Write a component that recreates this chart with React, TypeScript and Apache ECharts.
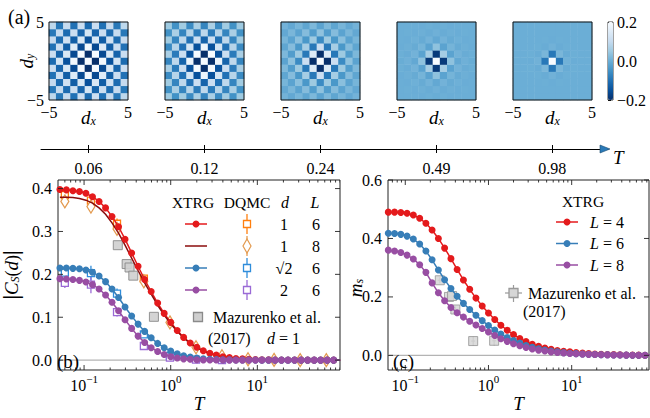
import React, { useEffect, useRef } from 'react';
import * as echarts from 'echarts';

const SERIF = 'Liberation Serif, Times New Roman, serif';

// ---------- panel (a): heatmaps ----------
const HEAT_T = ['0.06', '0.12', '0.24', '0.49', '0.98'];
const D_RANGE = [-5, -4, -3, -2, -1, 0, 1, 2, 3, 4, 5];
// |C(dx,dy)| read per shell: row = max(|dx|,|dy|), col = min(|dx|,|dy|); sign is staggered
const MAG_T006 = [[0.75], [0.39, 0.21], [0.19, 0.16, 0.15], [0.15, 0.14, 0.13, 0.12], [0.13, 0.12, 0.11, 0.11, 0.1], [0.11, 0.11, 0.1, 0.1, 0.09, 0.09]];
const MAG_T012 = [[0.75], [0.375, 0.2], [0.18, 0.15, 0.13], [0.12, 0.11, 0.1, 0.09], [0.09, 0.085, 0.08, 0.07, 0.065], [0.07, 0.065, 0.06, 0.055, 0.05, 0.05]];
const MAG_T024 = [[0.75], [0.31, 0.15], [0.11, 0.09, 0.06], [0.06, 0.05, 0.04, 0.03], [0.035, 0.03, 0.025, 0.02, 0.015], [0.02, 0.018, 0.015, 0.012, 0.01, 0.008]];
const MAG_T049 = [[0.75], [0.185, 0.06], [0.035, 0.02, 0.01], [0.01, 0.008, 0.005, 0.003], [0.004, 0.003, 0.002, 0.001, 0.001], [0.002, 0.001, 0.001, 0, 0, 0]];
const MAG_T098 = [[0.75], [0.09, 0.015], [0.006, 0.003, 0.001], [0.001, 0.001, 0, 0], [0, 0, 0, 0, 0], [0, 0, 0, 0, 0, 0]];
const HEAT_MAGS = [MAG_T006, MAG_T012, MAG_T024, MAG_T049, MAG_T098];
const BLUES_R = ['#08306b', '#08519c', '#2171b5', '#4292c6', '#6baed6', '#9ecae1', '#c6dbef', '#deebf7', '#f7fbff'];

// ---------- panel (b) ----------
const T_B = [0.0526, 0.0625, 0.0743, 0.0884, 0.105, 0.125, 0.149, 0.177, 0.21, 0.25, 0.297, 0.354, 0.42, 0.5, 0.595, 0.707, 0.841, 1.0, 1.19, 1.41, 1.68, 2.0, 2.38, 2.83, 3.36, 4.0, 4.76, 5.66, 6.73, 8.0, 9.51, 11.3, 13.5, 16.0, 19.0, 22.6, 26.9, 32.0, 38.1, 45.3, 53.8, 64.0, 76.1, 90.5];
const XTRG_D1_L6 = [0.398, 0.397, 0.395, 0.393, 0.389, 0.381, 0.37, 0.355, 0.335, 0.311, 0.282, 0.25, 0.219, 0.188, 0.16, 0.133, 0.109, 0.088, 0.069, 0.053, 0.04, 0.03, 0.022, 0.016, 0.012, 0.008, 0.006, 0.004, 0.003, 0.002, 0.0015, 0.001, 0.0007, 0.0005, 0.0004, 0.0003, 0.0002, 0.0001, 0, 0, 0, 0, 0, 0];
const XTRG_D1_L8 = [0.38, 0.38, 0.379, 0.377, 0.373, 0.366, 0.355, 0.34, 0.32, 0.296, 0.268, 0.238, 0.209, 0.18, 0.154, 0.128, 0.105, 0.085, 0.067, 0.052, 0.039, 0.029, 0.021, 0.015, 0.011, 0.008, 0.006, 0.004, 0.003, 0.002, 0.0015, 0.001, 0.0007, 0.0005, 0.0004, 0.0003, 0.0002, 0.0001, 0, 0, 0, 0, 0, 0];
const XTRG_DS2_L6 = [0.215, 0.215, 0.214, 0.213, 0.21, 0.205, 0.196, 0.183, 0.166, 0.146, 0.124, 0.103, 0.084, 0.067, 0.052, 0.039, 0.029, 0.021, 0.015, 0.01, 0.007, 0.005, 0.003, 0.002, 0.0015, 0.001, 0.0007, 0.0005, 0.0003, 0.0002, 0.0001, 0, 0, 0, 0, 0, 0, 0, 0, 0, 0, 0, 0, 0];
const XTRG_D2_L6 = [0.19, 0.189, 0.188, 0.186, 0.182, 0.176, 0.166, 0.152, 0.135, 0.115, 0.094, 0.074, 0.056, 0.041, 0.029, 0.02, 0.013, 0.008, 0.005, 0.003, 0.002, 0.001, 0.0005, 0.0003, 0.0002, 0.0001, 0, 0, 0, 0, 0, 0, 0, 0, 0, 0, 0, 0, 0, 0, 0, 0, 0, 0];

const DQMC_T = [0.06, 0.12, 0.24, 0.49, 0.98, 1.96, 3.91, 7.81, 15.6, 31.2, 62.5];
const DQMC_D1_L6 = [0.385, 0.372, 0.318, 0.19];
const DQMC_D1_L6_ERR = [0.006, 0.015, 0.012, 0.006];
const DQMC_D1_L8 = [0.37, 0.358, 0.306, 0.184, 0.088, 0.03, 0.009, 0.002, 0.0005, 0, 0];
const DQMC_D1_L8_ERR = [0.014, 0.008, 0.006, 0.005, 0.004, 0.002, 0.001, 0, 0, 0, 0];
const DQMC_DS2_L6 = [0.204, 0.203, 0.155, 0.06, 0.01];
const DQMC_DS2_L6_ERR = [0.008, 0.017, 0.012, 0.004, 0.002];
const DQMC_D2_L6 = [0.18, 0.176, 0.112, 0.033, 0.006, 0.001, 0];
const DQMC_D2_L6_ERR = [0.012, 0.02, 0.01, 0.004, 0.001, 0, 0];

const MAZ_B_T = [0.245, 0.31, 0.335, 0.37, 0.64];
const MAZ_B_C = [0.268, 0.224, 0.216, 0.197, 0.101];

// ---------- panel (c) ----------
const T_C = [0.0625, 0.0743, 0.0884, 0.105, 0.125, 0.149, 0.177, 0.21, 0.25, 0.297, 0.354, 0.42, 0.5, 0.595, 0.707, 0.841, 1.0, 1.19, 1.41, 1.68, 2.0, 2.38, 2.83, 3.36, 4.0, 4.76, 5.66, 6.73, 8.0, 9.51, 11.3, 13.5, 16.0, 19.0, 22.6, 26.9, 32.0, 38.1, 45.3, 53.8, 64.0, 76.1, 90.5];
const MS_L4 = [0.49, 0.49, 0.489, 0.486, 0.48, 0.469, 0.452, 0.429, 0.4, 0.367, 0.331, 0.294, 0.258, 0.226, 0.196, 0.169, 0.145, 0.123, 0.103, 0.086, 0.071, 0.058, 0.047, 0.038, 0.031, 0.025, 0.021, 0.017, 0.014, 0.012, 0.01, 0.008, 0.0065, 0.005, 0.004, 0.003, 0.0025, 0.002, 0.0015, 0.001, 0.0008, 0.0006, 0.0005];
const MS_L6 = [0.418, 0.417, 0.414, 0.408, 0.398, 0.381, 0.357, 0.327, 0.292, 0.259, 0.229, 0.202, 0.178, 0.157, 0.137, 0.119, 0.102, 0.087, 0.073, 0.061, 0.051, 0.042, 0.034, 0.028, 0.023, 0.018, 0.015, 0.012, 0.0095, 0.0076, 0.006, 0.0048, 0.0038, 0.003, 0.0024, 0.0019, 0.0015, 0.0012, 0.0009, 0.0007, 0.0006, 0.0005, 0.0004];
const MS_L8 = [0.36, 0.357, 0.352, 0.343, 0.33, 0.31, 0.284, 0.248, 0.214, 0.187, 0.164, 0.146, 0.131, 0.117, 0.104, 0.092, 0.08, 0.068, 0.057, 0.048, 0.04, 0.033, 0.027, 0.022, 0.018, 0.015, 0.012, 0.01, 0.008, 0.0065, 0.0053, 0.0043, 0.0035, 0.0028, 0.0022, 0.0018, 0.0014, 0.0011, 0.0009, 0.0007, 0.0005, 0.0004, 0.0003];
const MAZ_C_T = [0.26, 0.335, 0.365, 0.4, 0.655, 1.17];
const MAZ_C_M = [0.257, 0.2, 0.203, 0.157, 0.049, 0.05];
const MAZ_C_MERR = [0.01, 0.01, 0.01, 0.01, 0.016, 0.016];
const MAZ_C_TERR = [0.015, 0.018, 0.02, 0.022, 0.035, 0.06];

// axis ticks
const MAJOR_T = [0.1, 1, 10];
const MINOR_T = [0.06, 0.07, 0.08, 0.09, 0.2, 0.3, 0.4, 0.5, 0.6, 0.7, 0.8, 0.9, 2, 3, 4, 5, 6, 7, 8, 9, 20, 30, 40, 50, 60, 70, 80, 90];
const B_YTICKS = [0, 0.1, 0.2, 0.3, 0.4];
const C_YTICKS = [0, 0.2, 0.4, 0.6];

const RED = '#e41a1c';
const DARKRED = '#8b0d0d';
const BLUE = '#377eb8';
const PURPLE = '#984ea3';
const OR_SQ = '#ff7f0e';
const OR_DI = '#e39a4f';
const BL_SQ = '#2f8ddb';
const PU_SQ = '#9a6ad6';

const heatData = (mag: number[][]) => {
  const out: number[][] = [];
  D_RANGE.forEach((dx, i) => {
    D_RANGE.forEach((dy, j) => {
      const a = Math.abs(dx), b = Math.abs(dy);
      const m = mag[Math.max(a, b)][Math.min(a, b)];
      const s = (a + b) % 2 === 0 ? 1 : -1;
      out.push([i, j, Math.max(-0.2, Math.min(0.2, s * m))]);
    });
  });
  return out;
};

const powFmt = (v: number) => {
  const l = Math.log10(v);
  const e = Math.round(l);
  if (Math.abs(l - e) > 1e-6) return '';
  return `{b|10}{p|${e < 0 ? '−' + -e : e}}`;
};
const POW_RICH = {
  b: { fontSize: 16, fontFamily: SERIF, lineHeight: 20, verticalAlign: 'bottom', color: '#000' },
  p: { fontSize: 11, fontFamily: SERIF, lineHeight: 12, verticalAlign: 'top', color: '#000' },
};
const NAME_RICH = {
  i: { fontSize: 19, fontFamily: SERIF, fontStyle: 'italic', lineHeight: 22, verticalAlign: 'bottom', color: '#000' },
  n: { fontSize: 18, fontFamily: SERIF, lineHeight: 22, verticalAlign: 'bottom', color: '#000' },
  bar: { fontSize: 20, fontFamily: SERIF, fontWeight: 'bold', lineHeight: 22, verticalAlign: 'bottom', color: '#000' },
  s: { fontSize: 12, fontFamily: SERIF, fontStyle: 'italic', lineHeight: 12, verticalAlign: 'bottom', color: '#000' },
};

const xTickRender = (params: any, api: any) => {
  const cs = params.coordSys;
  const x = api.coord([api.value(0), 0.1])[0];
  const len = api.value(2) ? 5 : 2.5;
  const st = { stroke: '#222', lineWidth: 0.9 };
  return {
    type: 'group',
    children: [
      { type: 'line', shape: { x1: x, y1: cs.y + cs.height, x2: x, y2: cs.y + cs.height - len }, style: st },
      { type: 'line', shape: { x1: x, y1: cs.y, x2: x, y2: cs.y + len }, style: st },
    ],
  };
};
const yTickRender = (params: any, api: any) => {
  const cs = params.coordSys;
  const y = api.coord([1, api.value(1)])[1];
  const st = { stroke: '#222', lineWidth: 0.9 };
  return {
    type: 'group',
    children: [
      { type: 'line', shape: { x1: cs.x, y1: y, x2: cs.x + 5, y2: y }, style: st },
      { type: 'line', shape: { x1: cs.x + cs.width, y1: y, x2: cs.x + cs.width - 5, y2: y }, style: st },
    ],
  };
};
const zeroRender = (params: any, api: any) => {
  const cs = params.coordSys;
  const y = api.coord([1, 0])[1];
  return { type: 'line', shape: { x1: cs.x, y1: y, x2: cs.x + cs.width, y2: y }, style: { stroke: '#b4b4b4', lineWidth: 1.3 } };
};
const errRender = (color: string) => (params: any, api: any) => {
  const t = api.value(0), v = api.value(1), e = api.value(2);
  if (!e) return { type: 'group', children: [] };
  const p1 = api.coord([t, v - e]);
  const p2 = api.coord([t, v + e]);
  return { type: 'line', shape: { x1: p1[0], y1: p1[1], x2: p2[0], y2: p2[1] }, style: { stroke: color, lineWidth: 1.3 } };
};
const xyErrRender = (color: string) => (params: any, api: any) => {
  const t = api.value(0), v = api.value(1), e = api.value(2), te = api.value(3);
  const p1 = api.coord([t, v - e]);
  const p2 = api.coord([t, v + e]);
  const p3 = api.coord([t - te, v]);
  const p4 = api.coord([t + te, v]);
  const st = { stroke: color, lineWidth: 1.2 };
  return {
    type: 'group',
    children: [
      { type: 'line', shape: { x1: p1[0], y1: p1[1], x2: p2[0], y2: p2[1] }, style: st },
      { type: 'line', shape: { x1: p3[0], y1: p3[1], x2: p4[0], y2: p4[1] }, style: st },
    ],
  };
};

const txt = (x: number, y: number, text: string, size = 16, align = 'center', extra: any = {}) => ({
  type: 'text', x, y, z: 50, silent: true,
  style: { text, fill: '#000', fontSize: size, fontFamily: SERIF, align, verticalAlign: 'middle', textAlign: align, textVerticalAlign: 'middle', ...extra },
});
const lineEl = (x1: number, y1: number, x2: number, y2: number, stroke: string, lineWidth = 1.5) => ({
  type: 'line', z: 50, silent: true, shape: { x1, y1, x2, y2 }, style: { stroke, lineWidth },
});
const circleEl = (cx: number, cy: number, fill: string) => ({ type: 'circle', z: 51, silent: true, shape: { cx, cy, r: 3.5 }, style: { fill } });
const sqEl = (cx: number, cy: number, stroke: string, fill = '#fff', s = 7) => ({
  type: 'rect', z: 52, silent: true, shape: { x: cx - s / 2, y: cy - s / 2, width: s, height: s }, style: { fill, stroke, lineWidth: 1.3 },
});
const diaEl = (cx: number, cy: number, stroke: string) => ({
  type: 'polygon', z: 52, silent: true,
  shape: { points: [[cx, cy - 7], [cx + 4, cy], [cx, cy + 7], [cx - 4, cy]] }, style: { fill: '#fff', stroke, lineWidth: 1.2 },
});
const ITAL_RICH = { i: { fontStyle: 'italic', fontSize: 16, fontFamily: SERIF, color: '#000' } };

const HEAT_LEFT = [49, 165, 281, 397, 513];

export default function App() {
  const ref = useRef<HTMLDivElement>(null);
  useEffect(() => {
    if (!ref.current) return;
    const chart = echarts.init(ref.current, null, { renderer: 'svg' });

    const grids: any[] = HEAT_LEFT.map((l) => ({ left: l, top: 22, width: 79, height: 78, show: false }));
    grids.push({ left: 608, top: 22, width: 5, height: 78, show: true, borderColor: '#111', borderWidth: 0.8 }); // 5 colorbar
    grids.push({ left: 41, top: 110, width: 567, height: 39, show: false }); // 6 timeline
    grids.push({ left: 52, top: 180, width: 288, height: 210, show: true, borderColor: '#222', borderWidth: 1 }); // 7 (b)
    grids.push({ left: 388, top: 180, width: 261, height: 210, show: true, borderColor: '#222', borderWidth: 1 }); // 8 (c)

    const hidden = { axisLine: { show: false }, axisTick: { show: false }, axisLabel: { show: false }, splitLine: { show: false } };

    const xAxes: any[] = [];
    const yAxes: any[] = [];
    HEAT_LEFT.forEach((_, k) => {
      xAxes.push({ type: 'category', gridIndex: k, data: D_RANGE.map(String), show: false });
      yAxes.push({ type: 'category', gridIndex: k, data: D_RANGE.map(String), show: false });
    });
    HEAT_LEFT.forEach((_, k) => {
      xAxes.push({
        type: 'value', gridIndex: k, min: -5, max: 5, position: 'bottom',
        axisLine: { show: false }, axisTick: { show: false }, splitLine: { show: false },
        axisLabel: { customValues: [-5, 5], formatter: (v: number) => (v < 0 ? '−5' : v > 0 ? '5' : ''), margin: 4, fontSize: 16, fontFamily: SERIF, color: '#000' },
        name: '{i|d}{s|x}', nameLocation: 'middle', nameGap: 5, nameMoveOverlap: false, nameTextStyle: { rich: NAME_RICH },
      });
    });
    yAxes.push({
      type: 'value', gridIndex: 0, min: -5, max: 5, position: 'left',
      axisLine: { show: false }, axisTick: { show: false }, splitLine: { show: false },
      axisLabel: { customValues: [-5, 5], formatter: (v: number) => (v < 0 ? '−5' : v > 0 ? '5' : ''), margin: 5, fontSize: 16, fontFamily: SERIF, color: '#000' },
      name: '{i|d}{s|y}', nameLocation: 'middle', nameGap: 13, nameRotate: 90, nameMoveOverlap: false, nameTextStyle: { rich: NAME_RICH },
    }); // y 5
    // colorbar
    xAxes.push({ type: 'value', gridIndex: 5, min: 0, max: 1, show: false }); // x 10
    yAxes.push({
      type: 'value', gridIndex: 5, min: -0.2, max: 0.2, position: 'right',
      axisLine: { show: false }, splitLine: { show: false },
      axisTick: { show: true, customValues: [-0.2, 0, 0.2], length: 3, lineStyle: { color: '#111' } },
      axisLabel: { customValues: [-0.2, 0, 0.2], formatter: (v: number) => (v > 0.1 ? '0.2' : v < -0.1 ? '−0.2' : '0.0'), margin: 4, fontSize: 16, fontFamily: SERIF, color: '#000' },
    }); // y 6
    // timeline
    xAxes.push({
      type: 'value', gridIndex: 6, min: -0.41, max: 4.48, position: 'bottom',
      axisLine: { show: true, lineStyle: { color: '#000', width: 1 } },
      axisTick: { show: true, customValues: [0, 1, 2, 3, 4], length: 4, lineStyle: { color: '#000' } },
      axisLabel: { customValues: [0, 1, 2, 3, 4], formatter: (v: number) => HEAT_T[Math.round(v)] ?? '', margin: 11, fontSize: 16, fontFamily: SERIF, color: '#000' },
      splitLine: { show: false },
    }); // x 11
    xAxes.push({
      type: 'value', gridIndex: 6, min: -0.41, max: 4.48, position: 'bottom',
      axisLine: { show: false }, axisLabel: { show: false }, splitLine: { show: false },
      axisTick: { show: true, inside: true, customValues: [0, 1, 2, 3, 4], length: 4, lineStyle: { color: '#000' } },
    }); // x 12
    yAxes.push({ type: 'value', gridIndex: 6, min: 0, max: 1, ...hidden }); // y 7
    // (b), (c) log x axes
    const logX = (gridIndex: number, min: number, max: number) => ({
      type: 'log', logBase: 10, gridIndex, min, max,
      axisLine: { show: false }, axisTick: { show: false }, splitLine: { show: false }, minorTick: { show: false },
      axisLabel: { formatter: powFmt, rich: POW_RICH, margin: 3, showMinLabel: false, showMaxLabel: false, hideOverlap: false },
      name: '{i|T}', nameLocation: 'middle', nameGap: 21, nameMoveOverlap: false, nameTextStyle: { rich: NAME_RICH },
    });
    xAxes.push(logX(7, 0.05, 90)); // x 13
    xAxes.push(logX(8, 0.062, 85)); // x 14
    yAxes.push({
      type: 'value', gridIndex: 7, min: -0.023, max: 0.42,
      axisLine: { show: false }, axisTick: { show: false }, splitLine: { show: false },
      axisLabel: { customValues: B_YTICKS, formatter: (v: number) => v.toFixed(1), margin: 6, fontSize: 16, fontFamily: SERIF, color: '#000' },
      name: '{bar||}{i|C}{s|S}{n|(}{i|d}{n|)}{bar||}', nameLocation: 'middle', nameGap: 37, nameRotate: 90, nameMoveOverlap: false, nameTextStyle: { rich: NAME_RICH },
    }); // y 8
    yAxes.push({
      type: 'value', gridIndex: 8, min: -0.05, max: 0.6,
      axisLine: { show: false }, axisTick: { show: false }, splitLine: { show: false },
      axisLabel: { customValues: C_YTICKS, formatter: (v: number) => v.toFixed(1), margin: 6, fontSize: 16, fontFamily: SERIF, color: '#000' },
    }); // y 9

    const series: any[] = [];
    HEAT_MAGS.forEach((mag, k) => {
      series.push({ type: 'heatmap', xAxisIndex: k, yAxisIndex: k, data: heatData(mag), emphasis: { disabled: true }, silent: true });
    });

    const tickSeries = (xi: number, yi: number, yTicks: number[]) => [
      { type: 'custom', xAxisIndex: xi, yAxisIndex: yi, clip: true, silent: true, z: 10, renderItem: xTickRender, encode: { x: 0, y: 1 },
        data: [...MAJOR_T.map((t) => [t, 0.1, 1]), ...MINOR_T.map((t) => [t, 0.1, 0])] },
      { type: 'custom', xAxisIndex: xi, yAxisIndex: yi, silent: true, z: 10, renderItem: yTickRender, encode: { x: 0, y: 1 },
        data: yTicks.map((v) => [1, v]) },
      { type: 'custom', xAxisIndex: xi, yAxisIndex: yi, silent: true, z: 1, renderItem: zeroRender, encode: { x: 0, y: 1 }, data: [[1, 0]] },
    ];
    series.push(...tickSeries(13, 8, B_YTICKS));
    series.push(...tickSeries(14, 9, C_YTICKS));

    const xtrg = (xi: number, yi: number, T: number[], v: number[], color: string, marker = true) => ({
      type: 'line', xAxisIndex: xi, yAxisIndex: yi, data: T.map((t, i) => [t, v[i]]),
      symbol: marker ? 'circle' : 'none', symbolSize: 7, showSymbol: marker, clip: true, silent: true,
      itemStyle: { color }, lineStyle: { color, width: 1.5 },
    });
    series.push(xtrg(13, 8, T_B, XTRG_D1_L6, RED));
    series.push(xtrg(13, 8, T_B, XTRG_D1_L8, DARKRED, false));
    series.push(xtrg(13, 8, T_B, XTRG_DS2_L6, BLUE));
    series.push(xtrg(13, 8, T_B, XTRG_D2_L6, PURPLE));

    const dqmc = (v: number[], err: number[], color: string, symbol: string, size: any) => [
      { type: 'custom', xAxisIndex: 13, yAxisIndex: 8, clip: true, silent: true, renderItem: errRender(color), encode: { x: 0, y: 1 },
        data: v.map((y, i) => [DQMC_T[i], y, err[i]]) },
      { type: 'scatter', xAxisIndex: 13, yAxisIndex: 8, symbol, symbolSize: size, clip: true, silent: true,
        itemStyle: { color: '#fff', borderColor: color, borderWidth: 1.3, opacity: 1 },
        data: v.map((y, i) => [DQMC_T[i], y]) },
    ];
    series.push(...dqmc(DQMC_D1_L6, DQMC_D1_L6_ERR, OR_SQ, 'rect', 7));
    series.push(...dqmc(DQMC_D1_L8, DQMC_D1_L8_ERR, OR_DI, 'diamond', [8, 13]));
    series.push(...dqmc(DQMC_DS2_L6, DQMC_DS2_L6_ERR, BL_SQ, 'rect', 7));
    series.push(...dqmc(DQMC_D2_L6, DQMC_D2_L6_ERR, PU_SQ, 'rect', 7));
    series.push({
      type: 'scatter', xAxisIndex: 13, yAxisIndex: 8, symbol: 'rect', symbolSize: 9, silent: true,
      itemStyle: { color: '#cfcfcf', borderColor: '#8a8a8a', borderWidth: 1, opacity: 0.9 },
      data: MAZ_B_T.map((t, i) => [t, MAZ_B_C[i]]),
    });

    series.push(xtrg(14, 9, T_C, MS_L4, RED));
    series.push(xtrg(14, 9, T_C, MS_L6, BLUE));
    series.push(xtrg(14, 9, T_C, MS_L8, PURPLE));
    series.push({
      type: 'custom', xAxisIndex: 14, yAxisIndex: 9, silent: true, renderItem: xyErrRender('#9a9a9a'), encode: { x: 0, y: 1 },
      data: MAZ_C_T.map((t, i) => [t, MAZ_C_M[i], MAZ_C_MERR[i], MAZ_C_TERR[i]]),
    });
    series.push({
      type: 'scatter', xAxisIndex: 14, yAxisIndex: 9, symbol: 'rect', symbolSize: 9, silent: true,
      itemStyle: { color: '#d6d6d6', borderColor: '#999', borderWidth: 1, opacity: 0.85 },
      data: MAZ_C_T.map((t, i) => [t, MAZ_C_M[i]]),
    });

    const graphic: any[] = [];
    HEAT_LEFT.forEach((l) => {
      graphic.push({ type: 'rect', z: 60, silent: true, shape: { x: l, y: 22, width: 79, height: 78 }, style: { fill: 'none', stroke: '#111', lineWidth: 1 } });
    });
    graphic.push(txt(8, 17, '(a)', 20, 'left'));
    graphic.push({ type: 'polygon', z: 60, silent: true, shape: { points: [[600, 145], [610, 149], [600, 153]] }, style: { fill: '#2a7ab8', stroke: '#1a4a70', lineWidth: 0.6 } });
    graphic.push(txt(613, 157, 'T', 19, 'left', { fontStyle: 'italic' }));
    graphic.push(txt(57, 361, '(b)', 19, 'left'));
    graphic.push(txt(393, 361, '(c)', 19, 'left'));
    // y-axis title of (c)
    graphic.push({
      type: 'text', x: 354, y: 288, rotation: Math.PI / 2, z: 50, silent: true,
      style: { text: '{i|m}{s|s}', rich: NAME_RICH, fill: '#000', align: 'center', verticalAlign: 'middle', textAlign: 'center', textVerticalAlign: 'middle' },
    });

    // legend (b)
    graphic.push(txt(193, 202, 'XTRG', 15.5));
    graphic.push(txt(247, 202, 'DQMC', 15.5));
    graphic.push(txt(285, 202, 'd', 16, 'center', { fontStyle: 'italic' }));
    graphic.push(txt(315, 202, 'L', 16, 'center', { fontStyle: 'italic' }));
    const rowsY = [224, 246, 268, 290];
    const rowCol = [RED, DARKRED, BLUE, PURPLE];
    const rowDq = [OR_SQ, OR_DI, BL_SQ, PU_SQ];
    const rowD = ['1', '1', '√2', '2'];
    const rowL = ['6', '8', '6', '6'];
    rowsY.forEach((y, i) => {
      graphic.push(lineEl(185, y, 207, y, rowCol[i]));
      if (i !== 1) graphic.push(circleEl(196, y, rowCol[i]));
      graphic.push(lineEl(247, y - 10, 247, y + 10, rowDq[i], 1.3));
      graphic.push(i === 1 ? diaEl(247, y, rowDq[i]) : sqEl(247, y, rowDq[i]));
      graphic.push(txt(284, y, rowD[i], 16));
      graphic.push(txt(316, y, rowL[i], 16));
    });
    graphic.push(sqEl(198, 317, '#8a8a8a', '#cfcfcf', 9));
    graphic.push(txt(213, 317, 'Mazurenko et al.', 16, 'left'));
    graphic.push(txt(208, 338, '(2017)', 16, 'left'));
    graphic.push(txt(267, 338, '{i|d} = 1', 16, 'left', { rich: ITAL_RICH }));

    // legend (c)
    graphic.push(txt(583, 201, 'XTRG', 15.5));
    const cRowsY = [222, 243.5, 265];
    const cCol = [RED, BLUE, PURPLE];
    const cLab = ['4', '6', '8'];
    cRowsY.forEach((y, i) => {
      graphic.push(lineEl(556, y, 578, y, cCol[i]));
      graphic.push(circleEl(567, y, cCol[i]));
      graphic.push(txt(590, y, `{i|L} = ${cLab[i]}`, 16, 'left', { rich: ITAL_RICH }));
    });
    graphic.push(lineEl(505, 293, 522, 293, '#9a9a9a', 1.2));
    graphic.push(lineEl(513.5, 285, 513.5, 302, '#9a9a9a', 1.2));
    graphic.push(sqEl(513.5, 293, '#999', '#d6d6d6', 9));
    graphic.push(txt(528, 293, 'Mazurenko et al.', 16, 'left'));
    graphic.push(txt(523, 311, '(2017)', 16, 'left'));

    chart.setOption({
      animation: false,
      textStyle: { fontFamily: SERIF, color: '#000' },
      grid: grids,
      xAxis: xAxes,
      yAxis: yAxes,
      visualMap: {
        type: 'continuous', min: -0.2, max: 0.2, seriesIndex: [0, 1, 2, 3, 4],
        inRange: { color: BLUES_R }, show: true, left: 608, top: 22, itemWidth: 5, itemHeight: 78,
        padding: 0, calculable: false, hoverLink: false,
      },
      series,
      graphic,
    });
    return () => chart.dispose();
  }, []);
  return <div ref={ref} style={{ position: 'absolute', left: 0, top: 0, width: 650, height: 418, background: '#fff' }} />;
}
